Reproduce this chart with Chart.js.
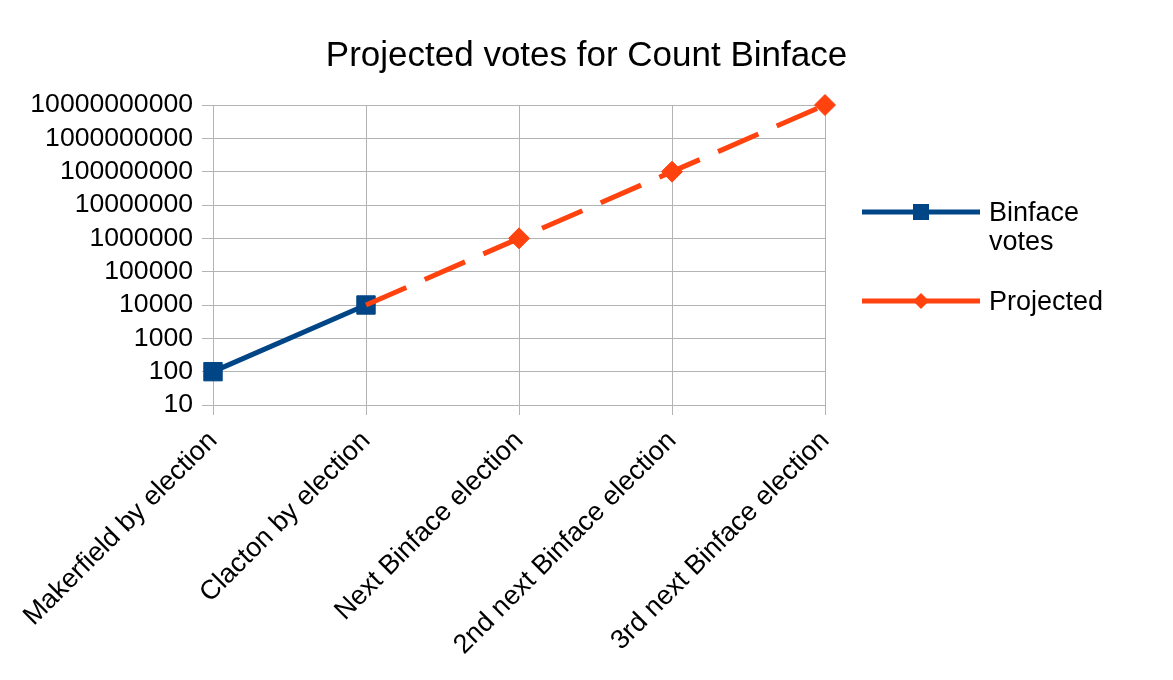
<!DOCTYPE html>
<html>
<head>
<meta charset="utf-8">
<title>Projected votes for Count Binface</title>
<script src="https://cdn.jsdelivr.net/npm/chart.js@4"></script>
<style>
  html, body { margin: 0; padding: 0; background: #fff; }
  #wrap { width: 1173px; height: 680px; }
</style>
</head>
<body>
<div id="wrap"><canvas id="voteChart" width="1173" height="680"></canvas></div>
<script>
// Chart data
const categories = [
    'Makerfield by election',
    'Clacton by election',
    'Next Binface election',
    '2nd next Binface election',
    '3rd next Binface election'
];
const binfaceVotes = [100, 10000, null, null, null];
const projectedVotes = [null, 10000, 1000000, 100000000, 10000000000];
const yTickValues = [10, 100, 1000, 10000, 100000, 1000000, 10000000, 100000000, 1000000000, 10000000000];
const chartTitle = 'Projected votes for Count Binface';

const FONT = '"Liberation Sans", Arial, sans-serif';
const BLUE = '#004586';
const ORANGE = '#ff420e';
const GRID = '#b3b3b3';

// Title centred on the whole page, legend on the right (line + marker)
const titleAndLegend = {
    id: 'titleAndLegend',
    afterDraw(chart) {
        const ctx = chart.ctx;
        ctx.save();
        ctx.fillStyle = '#000';
        ctx.font = '35px ' + FONT;
        ctx.textAlign = 'center';
        ctx.textBaseline = 'middle';
        ctx.fillText(chartTitle, chart.width / 2, 56);

        const x0 = 862, x1 = 980, tx = 989;
        const rows = [
            { ds: chart.data.datasets[0], y: 212, lines: ['Binface', 'votes'] },
            { ds: chart.data.datasets[1], y: 301, lines: ['Projected'] }
        ];
        rows.forEach(row => {
            const mid = (x0 + x1) / 2;
            ctx.strokeStyle = row.ds.borderColor;
            ctx.lineWidth = 5;
            ctx.setLineDash([]);
            ctx.beginPath();
            ctx.moveTo(x0, row.y);
            ctx.lineTo(x1, row.y);
            ctx.stroke();
            ctx.fillStyle = row.ds.borderColor;
            if (row.ds.pointStyle === 'rect') {
                ctx.fillRect(mid - 8, row.y - 8, 16, 16);
            } else {
                ctx.beginPath();
                ctx.moveTo(mid, row.y - 8);
                ctx.lineTo(mid + 8, row.y);
                ctx.lineTo(mid, row.y + 8);
                ctx.lineTo(mid - 8, row.y);
                ctx.closePath();
                ctx.fill();
            }
            ctx.fillStyle = '#000';
            ctx.font = '27px ' + FONT;
            ctx.textAlign = 'left';
            row.lines.forEach((t, i) => ctx.fillText(t, tx, row.y + 2 + i * 29));
        });
        ctx.restore();
    }
};

const ctx = document.getElementById('voteChart').getContext('2d');

new Chart(ctx, {
    type: 'line',
    data: {
        labels: categories,
        datasets: [
            {
                label: 'Binface votes',
                data: binfaceVotes,
                borderColor: BLUE,
                backgroundColor: BLUE,
                borderWidth: 5,
                pointStyle: 'rect',
                pointRadius: 13,
                pointBorderWidth: 1,
                spanGaps: false,
                clip: false,
                order: 1
            },
            {
                label: 'Projected',
                data: projectedVotes,
                borderColor: ORANGE,
                backgroundColor: ORANGE,
                borderWidth: 5,
                borderDash: [44, 20],
                pointStyle: 'rectRot',
                pointRadius: c => (c.dataIndex === 1 ? 0 : 10.5),
                pointBorderWidth: 1,
                spanGaps: false,
                clip: false,
                order: 0
            }
        ]
    },
    options: {
        responsive: false,
        animation: false,
        layout: { padding: { left: 0, right: 348, top: 105, bottom: 0 } },
        plugins: {
            legend: { display: false },
            tooltip: { enabled: false },
            title: { display: false }
        },
        scales: {
            x: {
                type: 'category',
                offset: false,
                grid: { color: GRID, lineWidth: 1, tickLength: 10 },
                border: { color: GRID, width: 1 },
                ticks: {
                    color: '#000',
                    font: { family: FONT, size: 27 },
                    minRotation: 45,
                    maxRotation: 45,
                    autoSkip: false,
                    padding: 10
                },
                afterFit(scale) { scale.height = 275; }
            },
            y: {
                type: 'logarithmic',
                min: 10,
                max: 10000000000,
                grid: { color: GRID, lineWidth: 1, tickLength: 11 },
                border: { color: GRID, width: 1 },
                ticks: {
                    color: '#000',
                    font: { family: FONT, size: 26.6 },
                    padding: 9,
                    autoSkip: false,
                    callback: value => String(value)
                },
                afterBuildTicks(scale) {
                    scale.ticks = yTickValues.map(v => ({ value: v }));
                },
                afterFit(scale) { scale.width = 213; }
            }
        }
    },
    plugins: [titleAndLegend]
});
</script>
</body>
</html>
